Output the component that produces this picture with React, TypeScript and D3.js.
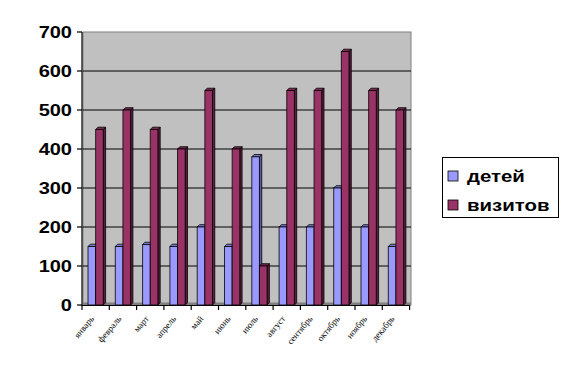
import React from "react";
import * as d3 from "d3";

const months = ["январь", "февраль", "март", "апрель", "май", "июнь", "июль", "август", "сентябрь", "октябрь", "ноябрь", "декабрь"];
const children = [150, 150, 155, 150, 200, 150, 380, 200, 200, 300, 200, 150];
const visits = [450, 500, 450, 400, 550, 400, 100, 550, 550, 650, 550, 500];
const seriesNames = ["детей", "визитов"];
const yTicks = [0, 100, 200, 300, 400, 500, 600, 700];

const W = 568, H = 377;
const colors = ["#9999FF", "#993366"];
const sideColors = ["#5C5C99", "#5C1F3D"];
const topColors = ["#7A7ACC", "#7A2952"];

export default function App() {
  const x0 = 82, x1 = 409.6, yTop = 32, yBot = 305;
  const y = d3.scaleLinear().domain([0, 700]).range([yBot, yTop]);
  const x = d3.scaleBand<string>().domain(months).range([x0, x1]).paddingInner(0.44).paddingOuter(0.22);
  const xs = d3.scaleBand<number>().domain([0, 1]).range([0, x.bandwidth()]).padding(0);
  const d = 2.3;
  const series = [children, visits];
  const step = x.step();

  const bars: JSX.Element[] = [];
  months.forEach((m, i) => {
    series.forEach((vals, s) => {
      const bx = (x(m) as number) + (xs(s) as number);
      const bw = xs.bandwidth();
      const ty = y(vals[i]);
      const front = `M${bx},${yBot}L${bx},${ty}L${bx + bw},${ty}L${bx + bw},${yBot}Z`;
      const side = `M${bx + bw},${yBot}L${bx + bw},${ty}L${bx + bw + d},${ty - d}L${bx + bw + d},${yBot - d}Z`;
      const top = `M${bx},${ty}L${bx + d},${ty - d}L${bx + bw + d},${ty - d}L${bx + bw},${ty}Z`;
      bars.push(
        <g key={`${m}-${s}`} stroke="#000" strokeWidth={0.8} strokeLinejoin="round">
          <path d={side} fill={sideColors[s]} />
          <path d={top} fill={topColors[s]} />
          <path d={front} fill={colors[s]} />
        </g>
      );
    });
  });

  return (
    <svg width={W} height={H} style={{ position: "absolute", left: 0, top: 0, background: "#fff" }}
      fontFamily="Arial, 'Liberation Sans', sans-serif">
      {/* back wall */}
      <rect x={83} y={yTop} width={411 - 83} height={yBot - yTop} fill="#C0C0C0" stroke="#808080" strokeWidth={1} />
      {/* floor */}
      <rect x={83} y={yBot - 2.5} width={411 - 83} height={2.5} fill="#808080" />
      {/* gridlines */}
      {yTicks.filter(t => t > 0 && t < 700).map(t => (
        <line key={t} x1={83} x2={411} y1={y(t)} y2={y(t)} stroke="#000" strokeWidth={1.2} />
      ))}
      {bars}
      {/* axes */}
      <line x1={x0} x2={x0} y1={yTop} y2={yBot + 1} stroke="#000" strokeWidth={1.2} />
      <line x1={x0} x2={x1} y1={yBot + 0.5} y2={yBot + 0.5} stroke="#000" strokeWidth={1.2} />
      {yTicks.map(t => (
        <g key={t}>
          <line x1={x0 - 5} x2={x0} y1={y(t)} y2={y(t)} stroke="#000" strokeWidth={1.2} />
          <text transform={`translate(72,${y(t) + 6}) scale(1.25,1)`} textAnchor="end" fontSize={16} fontWeight="bold" fill="#000">{t}</text>
        </g>
      ))}
      {months.map((m, i) => (
        <line key={m} x1={x0 + i * step + step} x2={x0 + i * step + step} y1={yBot} y2={yBot + 5} stroke="#000" strokeWidth={1.2} />
      ))}
      <line x1={x0} x2={x0} y1={yBot} y2={yBot + 5} stroke="#000" strokeWidth={1.2} />
      {months.map(m => {
        const cx = (x(m) as number) + x.bandwidth() / 2;
        return (
          <text key={m} transform={`translate(${cx - 1},${yBot + 14}) rotate(-50)`} textAnchor="end"
            fontSize={9} fontFamily="'Liberation Serif', 'Times New Roman', serif" fill="#000">{m}</text>
        );
      })}
      {/* legend */}
      <rect x={442.5} y={157.5} width={116} height={60} fill="#fff" stroke="#000" strokeWidth={1} />
      {seriesNames.map((n, i) => (
        <g key={n}>
          <rect x={448} y={171 + i * 29} width={10} height={10} fill={colors[i]} stroke="#000" strokeWidth={0.8} />
          <text transform={`translate(467,${182 + i * 29}) scale(1.2,1)`} fontSize={17} fontWeight="bold" fill="#000">{n}</text>
        </g>
      ))}
    </svg>
  );
}
